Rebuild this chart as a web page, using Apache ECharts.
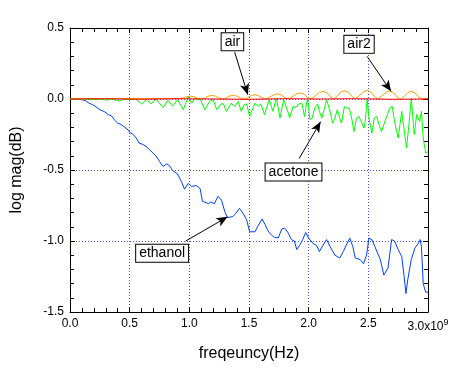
<!DOCTYPE html>
<html>
<head>
<meta charset="utf-8">
<script src="https://cdn.jsdelivr.net/npm/echarts@6/dist/echarts.min.js"></script>
<style>
html,body{margin:0;padding:0;background:#fff;}
#chart{width:454px;height:369px;}
</style>
</head>
<body>
<div id="chart"></div>
<script>
// frequency in units of 1e9 Hz, magnitude in dB
const xTickLabels = ['0.0','0.5','1.0','1.5','2.0','2.5','3.0'];
const yTickLabels = ['-1.5','-1.0','-0.5','0.0','0.5'];

const airData = [
  [0,0],[0.3,0.002],[0.6,-0.002],[0.9,0.002],[1.2,0],[1.5,-0.002],[1.8,0.002],[2.1,0],[2.4,0.002],[2.7,-0.002],[3.0,0]
];

const air2Data = [
  [0,0],[0.2,0.003],[0.4,0.002],[0.6,0.004],[0.8,0.003],[0.92,0.002],
  [0.95,0.008],[0.98,0.017],[1.01,0.02],[1.04,0.016],[1.07,0.004],[1.10,0],
  [1.13,0.006],[1.16,0.02],[1.19,0.025],[1.22,0.02],[1.25,0.006],[1.28,0],
  [1.31,0.008],[1.34,0.022],[1.37,0.025],[1.40,0.02],[1.43,0.006],[1.46,0],
  [1.49,0.01],[1.52,0.025],[1.55,0.03],[1.58,0.024],[1.61,0.008],[1.64,0],
  [1.67,0.012],[1.71,0.03],[1.74,0.036],[1.77,0.03],[1.80,0.01],[1.83,0],
  [1.86,0.014],[1.90,0.036],[1.93,0.042],[1.96,0.035],[1.99,0.012],[2.02,0],
  [2.05,0.018],[2.09,0.046],[2.12,0.054],[2.15,0.046],[2.18,0.018],[2.21,-0.002],
  [2.24,0.02],[2.27,0.05],[2.30,0.058],[2.33,0.05],[2.36,0.02],[2.39,0],
  [2.42,0.02],[2.46,0.05],[2.49,0.06],[2.52,0.05],[2.55,0.02],[2.58,0],
  [2.61,0.02],[2.65,0.048],[2.68,0.055],[2.71,0.046],[2.74,0.015],[2.77,-0.005],
  [2.80,0.018],[2.83,0.045],[2.86,0.054],[2.89,0.044],[2.92,0.015],[2.95,0],
  [3.0,0.005]
];

const acetoneData = [
  [0,0],[0.1,0],[0.2,-0.005],[0.25,0],[0.3,-0.008],[0.35,0],[0.415,-0.015],[0.45,0],
  [0.5,-0.005],[0.55,0],[0.6,-0.035],[0.64,-0.005],[0.68,-0.035],[0.72,0],[0.78,-0.06],
  [0.82,-0.01],[0.86,-0.05],[0.9,-0.005],[0.95,-0.075],[0.99,0.015],[1.02,-0.03],
  [1.045,0.005],[1.07,-0.005],[1.09,0],[1.13,-0.075],[1.17,-0.017],[1.20,-0.005],
  [1.23,-0.075],[1.27,-0.03],[1.29,-0.04],[1.31,-0.087],[1.35,-0.03],[1.38,-0.052],
  [1.41,-0.017],[1.435,-0.087],[1.46,-0.04],[1.48,-0.035],[1.505,-0.123],[1.55,-0.03],
  [1.575,-0.052],[1.60,-0.035],[1.63,-0.11],[1.67,-0.005],[1.70,-0.087],[1.73,0.005],
  [1.76,-0.134],[1.79,-0.005],[1.83,-0.1],[1.84,-0.134],[1.87,-0.052],[1.89,-0.06],
  [1.925,-0.03],[1.945,-0.035],[1.965,-0.123],[1.975,-0.07],[1.99,0.005],[2.0,-0.06],
  [2.01,-0.145],[2.03,-0.134],[2.05,-0.064],[2.075,-0.035],[2.09,-0.087],[2.11,-0.134],
  [2.13,-0.075],[2.15,-0.005],[2.16,0],[2.18,-0.087],[2.20,-0.17],[2.22,-0.134],
  [2.24,-0.075],[2.26,-0.134],[2.275,-0.17],[2.30,-0.052],[2.32,-0.064],[2.34,-0.064],
  [2.36,-0.134],[2.38,-0.23],[2.40,-0.134],[2.42,-0.123],[2.44,-0.158],[2.465,-0.205],
  [2.475,-0.15],[2.49,0.005],[2.505,-0.134],[2.53,-0.24],[2.55,-0.134],[2.57,-0.123],
  [2.59,-0.18],[2.61,-0.23],[2.63,-0.18],[2.65,-0.134],[2.68,-0.064],[2.70,-0.052],
  [2.72,-0.158],[2.75,-0.275],[2.78,-0.087],[2.79,-0.1],[2.82,-0.345],[2.84,-0.18],
  [2.86,0.005],[2.885,-0.25],[2.905,-0.11],[2.93,-0.158],[2.945,-0.087],[2.96,-0.275],
  [2.98,-0.38],[3.0,-0.37]
];

const ethanolData = [
  [0.02,0],[0.06,0],[0.10,-0.005],[0.13,-0.012],[0.16,-0.03],[0.19,-0.04],[0.21,-0.05],
  [0.25,-0.075],[0.29,-0.09],[0.32,-0.11],[0.35,-0.12],[0.37,-0.145],[0.40,-0.17],
  [0.43,-0.18],[0.46,-0.20],[0.49,-0.22],[0.50,-0.235],[0.53,-0.25],[0.555,-0.275],
  [0.58,-0.31],[0.61,-0.32],[0.64,-0.335],[0.67,-0.36],[0.695,-0.38],[0.72,-0.40],
  [0.75,-0.44],[0.78,-0.475],[0.81,-0.457],[0.835,-0.47],[0.86,-0.505],[0.90,-0.527],
  [0.93,-0.575],[0.96,-0.635],[0.99,-0.595],[1.02,-0.615],[1.06,-0.61],[1.09,-0.63],
  [1.11,-0.72],[1.16,-0.737],[1.18,-0.725],[1.21,-0.738],[1.24,-0.685],[1.27,-0.713],
  [1.30,-0.80],[1.32,-0.835],[1.365,-0.828],[1.39,-0.805],[1.42,-0.77],[1.45,-0.805],
  [1.48,-0.85],[1.505,-0.935],[1.55,-0.935],[1.575,-0.895],[1.61,-0.845],[1.635,-0.885],
  [1.66,-0.93],[1.69,-0.96],[1.715,-0.975],[1.745,-0.978],[1.775,-0.915],[1.80,-0.91],
  [1.83,-0.945],[1.855,-0.99],[1.88,-1.0],[1.90,-1.06],[1.925,-1.03],[1.95,-0.99],
  [1.975,-0.94],[2.00,-0.98],[2.04,-1.02],[2.065,-1.03],[2.09,-1.075],[2.12,-1.03],
  [2.15,-0.99],[2.18,-1.04],[2.22,-1.10],[2.26,-1.12],[2.29,-1.075],[2.32,-1.02],
  [2.345,-0.98],[2.37,-1.04],[2.39,-1.12],[2.43,-1.13],[2.46,-1.16],[2.475,-1.17],
  [2.485,-1.10],[2.505,-0.98],[2.53,-0.99],[2.555,-1.04],[2.60,-1.13],[2.63,-1.24],
  [2.665,-1.19],[2.695,-0.99],[2.72,-1.0],[2.75,-1.06],[2.78,-1.11],[2.80,-1.25],
  [2.815,-1.37],[2.83,-1.275],[2.86,-1.13],[2.89,-1.05],[2.92,-1.015],[2.935,-0.99],
  [2.945,-1.04],[2.96,-1.30],[2.98,-1.36],[3.0,-1.36]
];

// annotation callouts: label text, box centre, arrow start, arrow tip (data coords)
const annotationText = ['air','air2','acetone','ethanol'];
const annotationBox = [[1.361,0.403],[2.422,0.385],[1.873,-0.514],[0.772,-1.087]];
const annotationFrom = [[1.38,0.33],[2.49,0.30],[1.92,-0.42],[0.97,-1.0]];
const annotationTo = [[1.49,0.03],[2.69,0.054],[2.10,-0.16],[1.32,-0.83]];

const FONT = 'Liberation Sans, Arial, sans-serif';
const gridColor = '#4a4aff';

const chart = echarts.init(document.getElementById('chart'), null, {renderer:'canvas'});

function xAxisCommon(extra){
  return Object.assign({
    type:'value', min:0, max:3, interval:0.5,
    axisLine:{show:true, onZero:false, lineStyle:{color:'#000', width:1}},
    axisTick:{show:true, inside:true, length:5, lineStyle:{color:'#000'}},
    minorTick:{show:true, splitNumber:5, length:4, lineStyle:{color:'#000'}},
  }, extra);
}
function yAxisCommon(extra){
  return Object.assign({
    type:'value', min:-1.5, max:0.5, interval:0.5,
    axisLine:{show:true, onZero:false, lineStyle:{color:'#000', width:1}},
    axisTick:{show:true, inside:true, length:5, lineStyle:{color:'#000'}},
    minorTick:{show:true, splitNumber:5, length:4, lineStyle:{color:'#000'}},
  }, extra);
}

const lineBase = {type:'line', showSymbol:false, symbol:'none', animation:false, silent:true};

const option = {
  animation:false,
  backgroundColor:'#fff',
  grid:{left:70, right:26, top:28, bottom:57, containLabel:false},
  xAxis:[
    xAxisCommon({
      position:'bottom',
      name:'freqeuncy(Hz)', nameLocation:'middle', nameGap:34,
      nameTextStyle:{fontFamily:FONT, fontSize:16, color:'#000'},
      axisLabel:{
        margin:6, fontFamily:FONT, fontSize:12, color:'#000',
        formatter:function(v){
          const i = Math.round(v/0.5);
          const t = xTickLabels[i];
          return i === xTickLabels.length-1 ? t + 'x10{sup|9}' : t;
        },
        rich:{sup:{fontSize:9, verticalAlign:'top', padding:[0,0,8,0], fontFamily:FONT, color:'#000'}}
      },
      splitLine:{show:true, lineStyle:{color:gridColor, type:[1,2], width:1}}
    }),
    xAxisCommon({position:'top', axisLabel:{show:false}, splitLine:{show:false}})
  ],
  yAxis:[
    yAxisCommon({
      position:'left',
      name:'log mag(dB)', nameLocation:'middle', nameGap:45, nameRotate:90,
      nameTextStyle:{fontFamily:FONT, fontSize:16, color:'#000'},
      axisLabel:{
        margin:6, fontFamily:FONT, fontSize:12, color:'#000',
        formatter:function(v){ return yTickLabels[Math.round((v+1.5)/0.5)]; }
      },
      splitLine:{show:true, lineStyle:{color:gridColor, type:[1,2], width:1}}
    }),
    yAxisCommon({position:'right', axisLabel:{show:false}, splitLine:{show:false}})
  ],
  series:[
    Object.assign({}, lineBase, {name:'ethanol', data:ethanolData, lineStyle:{color:'#0040ff', width:1}}),
    Object.assign({}, lineBase, {name:'acetone', data:acetoneData, lineStyle:{color:'#00ff00', width:1}}),
    Object.assign({}, lineBase, {name:'air2', data:air2Data, lineStyle:{color:'#ffa000', width:1}}),
    Object.assign({}, lineBase, {name:'air', data:airData, lineStyle:{color:'#ff0000', width:1}}),
    Object.assign({}, lineBase, {
      name:'annotations', data:[],
      markLine:{
        silent:true, animation:false,
        symbol:['none','arrow'], symbolSize:[7,11],
        lineStyle:{color:'#000', width:1, type:'solid'},
        label:{show:false},
        emphasis:{disabled:true},
        data: annotationFrom.map(function(f,i){ return [{coord:f},{coord:annotationTo[i]}]; })
      },
      markPoint:{
        silent:true, animation:false,
        symbol:'rect', symbolSize:1,
        itemStyle:{color:'rgba(0,0,0,0)'},
        label:{
          show:true, position:'inside', fontFamily:FONT, fontSize:14, color:'#000',
          backgroundColor:'#fff', borderColor:'#000', borderWidth:1, padding:[2,3,1,3],
          formatter:function(p){ return p.name; }
        },
        data: annotationBox.map(function(b,i){ return {name:annotationText[i], coord:b}; })
      }
    })
  ]
};
chart.setOption(option);
</script>
</body>
</html>
